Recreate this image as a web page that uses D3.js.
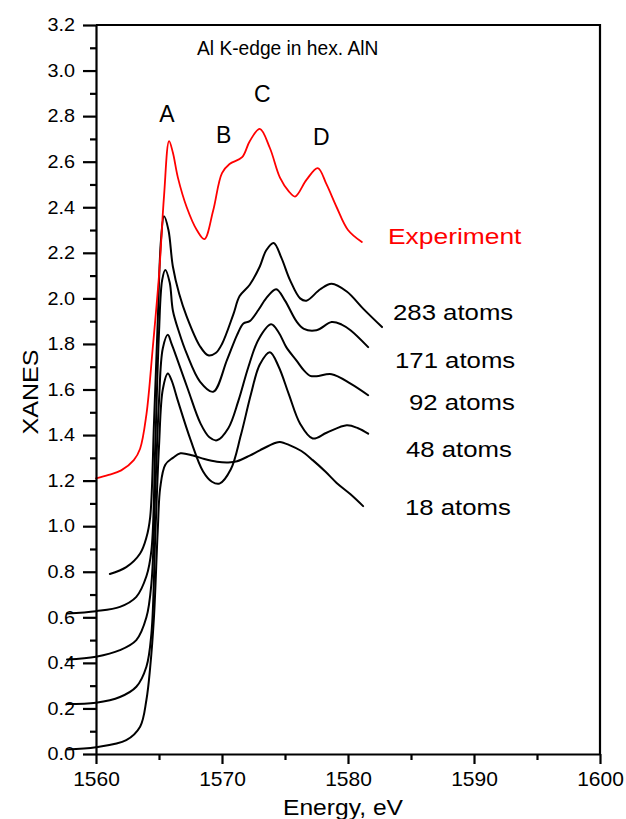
<!DOCTYPE html>
<html><head><meta charset="utf-8">
<script src="https://cdn.jsdelivr.net/npm/d3@7"></script>
<style>body{margin:0;background:#fff}svg{display:block}text{font-family:"Liberation Sans",Arial,Helvetica,sans-serif}</style>
</head><body>
<svg id="c" width="626" height="819"></svg>
<script>
// ---- data ----
const xTicks = [1560, 1570, 1580, 1590, 1600];
const xMinor = [1565, 1575, 1585, 1595];
const yTicks = [0.0,0.2,0.4,0.6,0.8,1.0,1.2,1.4,1.6,1.8,2.0,2.2,2.4,2.6,2.8,3.0,3.2];
const yMinor = [0.1,0.3,0.5,0.7,0.9,1.1,1.3,1.5,1.7,1.9,2.1,2.3,2.5,2.7,2.9,3.1];

const expE = [1560,1561,1562,1563,1563.5,1564,1564.5,1565,1565.4,1565.8,1566.1,1566.5,1567.2,1568.0,1568.6,1569.3,1570.0,1570.6,1571.6,1572.2,1573.0,1573.8,1574.6,1575.3,1575.8,1576.7,1577.6,1578.3,1579.1,1580.0,1581.1];
const expY = [1.21,1.225,1.245,1.29,1.34,1.49,1.78,2.10,2.45,2.69,2.64,2.53,2.40,2.30,2.26,2.386,2.55,2.59,2.62,2.69,2.744,2.66,2.53,2.47,2.447,2.52,2.572,2.50,2.40,2.30,2.247];

const a283E = [1561.1,1562.4,1563.5,1564.0,1564.3,1564.6,1564.9,1565.15,1565.4,1565.75,1566.1,1566.6,1567.2,1568.25,1568.9,1569.5,1570.0,1570.9,1571.4,1572.2,1573.0,1573.5,1574.1,1574.7,1575.4,1576.2,1576.7,1577.8,1578.7,1579.9,1581.2,1582.7];
const a283Y = [0.79,0.82,0.88,0.95,1.04,1.45,1.90,2.25,2.36,2.30,2.14,2.02,1.92,1.79,1.75,1.76,1.80,1.93,2.01,2.06,2.14,2.21,2.243,2.18,2.08,2.00,1.99,2.04,2.064,2.03,1.955,1.874];

const a171E = [1557.7,1560,1561.9,1563.2,1564.0,1564.4,1564.7,1565.0,1565.25,1565.5,1565.85,1566.1,1566.6,1567.2,1568.25,1569.3,1570.4,1571.2,1571.7,1572.2,1572.9,1573.5,1574.3,1575.0,1575.9,1576.5,1577.5,1578.7,1579.5,1580.2,1581.6];
const a171Y = [0.617,0.627,0.646,0.69,0.78,0.895,1.35,1.85,2.08,2.125,2.07,1.947,1.85,1.757,1.635,1.59,1.73,1.84,1.89,1.90,1.95,2.0,2.04,1.99,1.90,1.866,1.86,1.896,1.885,1.86,1.786];

const a92E = [1557.7,1560,1561.9,1563.2,1564.0,1564.4,1564.7,1565.0,1565.3,1565.7,1566.0,1566.4,1567.3,1568.3,1569.0,1569.6,1570.5,1571.3,1572.1,1572.9,1573.9,1574.5,1575.1,1575.9,1576.5,1577.0,1577.5,1578.7,1580.2,1581.6];
const a92Y = [0.415,0.427,0.456,0.50,0.60,0.75,1.15,1.55,1.78,1.84,1.80,1.74,1.60,1.45,1.39,1.377,1.43,1.55,1.70,1.82,1.886,1.85,1.786,1.728,1.684,1.66,1.658,1.667,1.626,1.575];

const a48E = [1557.7,1560,1561.9,1563.2,1564.0,1564.4,1564.7,1565.0,1565.3,1565.7,1566.0,1566.5,1567.5,1568.5,1569.2,1569.8,1570.7,1571.5,1572.3,1573.0,1573.8,1574.5,1575.3,1576.2,1577.2,1578.3,1579.9,1580.8,1581.6];
const a48Y = [0.219,0.225,0.25,0.295,0.383,0.53,0.95,1.35,1.60,1.67,1.64,1.55,1.38,1.24,1.195,1.187,1.25,1.40,1.58,1.71,1.764,1.70,1.58,1.45,1.385,1.41,1.443,1.43,1.406];

const a18E = [1557.7,1560,1562.4,1563.5,1564.0,1564.3,1564.6,1564.9,1565.1,1565.5,1566.1,1566.7,1567.7,1568.6,1569.6,1570.5,1571.2,1572.2,1573.0,1574.2,1574.6,1575.4,1576.3,1577.2,1578.2,1579.1,1580.2,1581.2];
const a18Y = [0.02,0.03,0.061,0.12,0.237,0.38,0.60,0.98,1.17,1.27,1.30,1.32,1.31,1.295,1.283,1.28,1.285,1.31,1.333,1.365,1.37,1.355,1.33,1.29,1.24,1.19,1.14,1.088];

const seriesNames = ["Experiment","283 atoms","171 atoms","92 atoms","48 atoms","18 atoms"];
const peakLabels = ["A","B","C","D"];

// ---- drawing ----
const svg = d3.select("#c");
const x = d3.scaleLinear().domain([1560,1600]).range([96,600]);
const y = d3.scaleLinear().domain([0,3.2]).range([754,25]);

const line = d3.line().x(d=>x(d[0])).y(d=>y(d[1])).curve(d3.curveCatmullRom.alpha(0.5));
const zip = (a,b)=>a.map((v,i)=>[v,b[i]]);

const series = [
  {E:a283E,Y:a283Y,c:"#000",w:2},
  {E:a171E,Y:a171Y,c:"#000",w:2},
  {E:a92E,Y:a92Y,c:"#000",w:2},
  {E:a48E,Y:a48Y,c:"#000",w:2},
  {E:a18E,Y:a18Y,c:"#000",w:2},
  {E:expE,Y:expY,c:"#ff0000",w:1.8}
];
series.forEach(s=>{
  svg.append("path").attr("d",line(zip(s.E,s.Y)))
    .attr("fill","none").attr("stroke",s.c).attr("stroke-width",s.w)
    .attr("stroke-linejoin","round").attr("stroke-linecap","round");
});

// frame
svg.append("path").attr("d",`M${x(1560)},${y(3.2)}H${x(1600)}V${y(0)}`)
  .attr("fill","none").attr("stroke","#000").attr("stroke-width",2.2);

// axes
const yAx = svg.append("g").attr("transform",`translate(${x(1560)},0)`)
  .call(d3.axisLeft(y).tickValues(yTicks).tickFormat(d3.format(".1f")).tickSize(13).tickSizeOuter(0).tickPadding(8));
const ySx = 1.1;
yAx.selectAll("text").attr("font-size",18).attr("fill","#000")
  .attr("x",-21/ySx).attr("transform",`scale(${ySx},1)`);
svg.append("g").attr("transform",`translate(${x(1560)},0)`)
  .call(d3.axisLeft(y).tickValues(yMinor).tickSize(6).tickSizeOuter(0).tickFormat(""))
  .select(".domain").remove();

const xAx = svg.append("g").attr("transform",`translate(0,${y(0)})`)
  .call(d3.axisBottom(x).tickValues(xTicks).tickFormat(d3.format("d")).tickSize(10).tickSizeOuter(0).tickPadding(7));
xAx.selectAll("text").attr("font-size",21).attr("fill","#000");
svg.append("g").attr("transform",`translate(0,${y(0)})`)
  .call(d3.axisBottom(x).tickValues(xMinor).tickSize(6).tickSizeOuter(0).tickFormat(""))
  .select(".domain").remove();

svg.selectAll(".domain, .tick line").attr("stroke","#000").attr("stroke-width",2.2);

// text helper
function label(t,px,py,size,sx,color,anchor,rot){
  svg.append("text").text(t)
    .attr("transform",`translate(${px},${py})${rot?` rotate(${rot})`:""} scale(${sx},1)`)
    .attr("font-size",size).attr("fill",color||"#000").attr("text-anchor",anchor||"start");
}
label("Al K-edge in hex. AlN",197,55,20,0.96,"#000","start");
label("XANES",38,392,22,1.14,"#000","middle",-90);
label("Energy, eV",283,815,22,1.12,"#000","start");

const peakPos = [[167,121.7],[223.7,143.3],[262.3,101.7],[321.3,145]];
peakLabels.forEach((p,i)=>label(p,peakPos[i][0],peakPos[i][1],23,1,"#000","middle"));

const namePos = [[388,244,22,1.2],[393,320,23,1.12],[395,368,23,1.12],[409,410,23,1.12],[406,457,23,1.12],[405,515,23,1.12]];
seriesNames.forEach((n,i)=>label(n,namePos[i][0],namePos[i][1],namePos[i][2],namePos[i][3],i===0?"#ff0000":"#000","start"));
</script>
</body></html>
